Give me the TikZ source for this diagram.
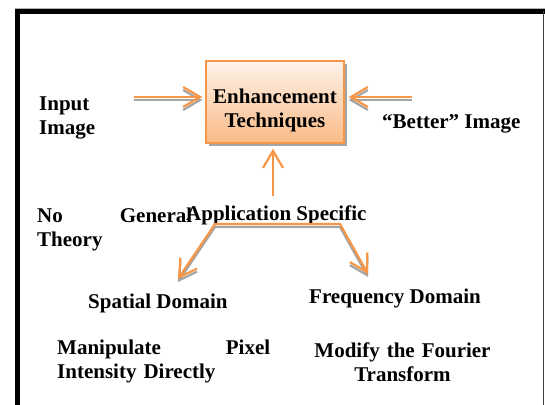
\documentclass[tikz,border=0pt]{standalone}
\usepackage{fontspec}
\setmainfont{Liberation Serif}
\usetikzlibrary{arrows.meta, positioning, shadows}
\definecolor{enhorange}{RGB}{247,150,70}
\definecolor{shadowgray}{RGB}{165,165,165}
\tikzset{
    techbox/.style={rectangle, draw=enhorange, line width=1.4pt, top color=enhorange!12, bottom color=enhorange!65, minimum width=138pt, minimum height=82pt, inner sep=0pt, text width=130pt, align=center, text height=30.6pt, font=\bfseries\fontsize{21}{24}\selectfont, drop shadow={shadow xshift=2.5pt, shadow yshift=-2.5pt, fill=shadowgray, opacity=1}},
    lbl/.style={inner sep=0pt, anchor=base west, font=\bfseries\fontsize{21}{24}\selectfont},
    flow/.style={-{Straight Barb[length=17pt, width=20pt]}, line width=2.2pt, enhorange},
    flowshadow/.style={flow, shadowgray, transform canvas={yshift=-3pt}},
}
\begin{document}
\begin{tikzpicture}[x=1pt, y=-1pt]
    \clip (0,0) rectangle (545,404);
    % frame
    \draw[gray!60, line width=0.8pt] (15,8) -- (545,8);
    \draw[line width=4.5pt] (17.5,420) -- (17.5,11.3) -- (560,11.3);
    \draw[black!75, line width=1.2pt] (543.8,11) -- (543.8,420);

    \node[techbox] (enh) at (275,102) {Enhancement\\Techniques};
    \node[lbl, text width=60pt, align=left] (input) at (39,110.7) {Input\\Image};
    \node[lbl] (better) at (382,128) {“Better” Image};
    \node[lbl, text width=155pt, align=left] (notheory) at (37,222) {No \hfill General\\Theory};
    \node[lbl] (app) at (186,220) {Application Specific};
    \node[lbl] (spatial) at (88,308) {Spatial Domain};
    \node[lbl] (freq) at (309,303) {Frequency Domain};
    \node[lbl, text width=213pt, align=left] (manip) at (57,354) {Manipulate \hfill Pixel\\Intensity Directly};
    \node[lbl, anchor=base, text width=210pt, align=center] (modify) at (402.5,357) {Modify the Fourier\\Transform};

    \coordinate (intail) at (134,97);
    \coordinate (outtail) at (412,97);
    \coordinate (upfoot) at (273,196);
    \coordinate (brL) at (215,224);
    \coordinate (brR) at (340,224);
    \coordinate (spTip) at (178,279);
    \coordinate (frTip) at (368,274);

    \draw[flowshadow, shorten >=3pt] (intail) -- ([yshift=5pt]enh.west);
    \draw[flow, shorten >=3pt] (intail) -- ([yshift=5pt]enh.west);
    \draw[flowshadow, shorten >=4pt] (outtail) -- ([yshift=5pt]enh.east);
    \draw[flow, shorten >=4pt] (outtail) -- ([yshift=5pt]enh.east);
    \draw[flow, shorten >=5pt] (upfoot) -- (upfoot |- enh.south);
    \draw[flowshadow, {Straight Barb[length=17pt, width=20pt]}-{Straight Barb[length=17pt, width=20pt]}] (spTip) -- (brL) -- (brR) -- (frTip);
    \draw[flow, {Straight Barb[length=17pt, width=20pt]}-{Straight Barb[length=17pt, width=20pt]}] (spTip) -- (brL) -- (brR) -- (frTip);
\end{tikzpicture}
\end{document}
